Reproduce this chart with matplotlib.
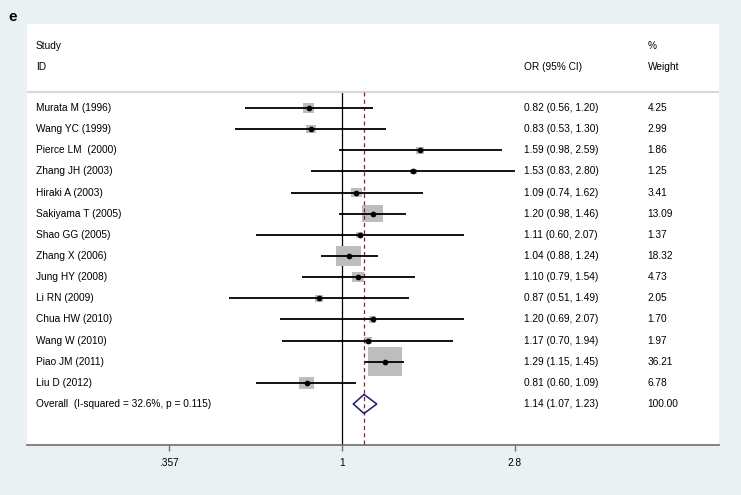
#!/usr/bin/env python3
"""Forest plot: OR (95% CI) by study, random/fixed overall estimate."""

import numpy as np
import matplotlib

matplotlib.use("Agg")
import matplotlib.pyplot as plt
from matplotlib.patches import Polygon
from matplotlib.ticker import FixedLocator, FixedFormatter

plt.rcParams["font.family"] = ["Liberation Sans", "DejaVu Sans"]

STUDIES = [
    "Murata M (1996)",
    "Wang YC (1999)",
    "Pierce LM  (2000)",
    "Zhang JH (2003)",
    "Hiraki A (2003)",
    "Sakiyama T (2005)",
    "Shao GG (2005)",
    "Zhang X (2006)",
    "Jung HY (2008)",
    "Li RN (2009)",
    "Chua HW (2010)",
    "Wang W (2010)",
    "Piao JM (2011)",
    "Liu D (2012)",
]
OR_EST = [0.82, 0.83, 1.59, 1.53, 1.09, 1.20, 1.11, 1.04, 1.10, 0.87, 1.20, 1.17, 1.29, 0.81]
OR_LO = [0.56, 0.53, 0.98, 0.83, 0.74, 0.98, 0.60, 0.88, 0.79, 0.51, 0.69, 0.70, 1.15, 0.60]
OR_HI = [1.20, 1.30, 2.59, 2.80, 1.62, 1.46, 2.07, 1.24, 1.54, 1.49, 2.07, 1.94, 1.45, 1.09]
WEIGHTS = [4.25, 2.99, 1.86, 1.25, 3.41, 13.09, 1.37, 18.32, 4.73, 2.05, 1.70, 1.97, 36.21, 6.78]

OVERALL_LABEL = "Overall  (I-squared = 32.6%, p = 0.115)"
OVERALL = (1.14, 1.07, 1.23)
OVERALL_WEIGHT = 100.00

TICKS = [0.357, 1, 2.8]
TICK_LABELS = [".357", "1", "2.8"]

BG = "#e9f1f3"
FS = 7.3

fig = plt.figure(figsize=(7.41, 4.95), dpi=100, facecolor=BG)
ax = fig.add_axes([27 / 741, 50 / 495, 692 / 741, 421 / 495])
ax.set_facecolor("white")

ax.set_xscale("log")
ax.set_xlim(np.exp(-1.875), np.exp(2.244))
ax.set_ylim(15.94, -3.97)

rows = np.arange(len(STUDIES))
overall_row = len(STUDIES)
sep_row = -0.76

# reference lines
ax.plot([1, 1], [sep_row, 15.94], color="black", lw=0.9, zorder=1)
ax.plot([OVERALL[0], OVERALL[0]], [sep_row, 15.94], color="#8b2232", lw=0.9,
        dashes=(3.2, 2.6), zorder=3)
ax.axhline(sep_row, color="#d8d8d8", lw=1.6, zorder=1)

# weight boxes (area ~ weight), slightly wider than tall
box_marker = [(-1.18, -1), (1.18, -1), (1.18, 1), (-1.18, 1), (-1.18, -1)]
sizes = [16.6 * w for w in WEIGHTS]
ax.scatter(OR_EST, rows, s=sizes, marker=box_marker, color="#bdbdbd",
           linewidths=0, zorder=2)

ax.hlines(rows, OR_LO, OR_HI, color="black", lw=1.3, zorder=4)
ax.plot(OR_EST, rows, "o", color="black", ms=3.1, zorder=5)

# overall diamond
est, lo, hi = OVERALL
h = 0.45
ax.add_patch(Polygon([(lo, overall_row), (est, overall_row - h), (hi, overall_row),
                      (est, overall_row + h)], closed=True, fill=False,
                     edgecolor="#1c1c6e", lw=1.1, zorder=6))

# text columns
tr = ax.get_yaxis_transform()
x_study, x_ci, x_wt = 0.013, 0.718, 0.897
ax.text(x_study, -2.93, "Study", transform=tr, fontsize=FS, va="center")
ax.text(x_study, -1.94, "ID", transform=tr, fontsize=FS, va="center")
ax.text(x_ci, -1.94, "OR (95% CI)", transform=tr, fontsize=FS, va="center")
ax.text(x_wt, -2.93, "%", transform=tr, fontsize=FS, va="center")
ax.text(x_wt, -1.94, "Weight", transform=tr, fontsize=FS, va="center")

for r, name, e, l, u, w in zip(rows, STUDIES, OR_EST, OR_LO, OR_HI, WEIGHTS):
    ax.text(x_study, r, name, transform=tr, fontsize=FS, va="center")
    ax.text(x_ci, r, f"{e:.2f} ({l:.2f}, {u:.2f})", transform=tr, fontsize=FS, va="center")
    ax.text(x_wt, r, f"{w:.2f}", transform=tr, fontsize=FS, va="center")

ax.text(x_study, overall_row, OVERALL_LABEL, transform=tr, fontsize=FS, va="center")
ax.text(x_ci, overall_row, f"{est:.2f} ({lo:.2f}, {hi:.2f})", transform=tr,
        fontsize=FS, va="center")
ax.text(x_wt, overall_row, f"{OVERALL_WEIGHT:.2f}", transform=tr, fontsize=FS, va="center")

# axis styling
for side in ("top", "left", "right"):
    ax.spines[side].set_visible(False)
ax.spines["bottom"].set_color("#6e6e6e")
ax.spines["bottom"].set_linewidth(1.2)
ax.xaxis.set_major_locator(FixedLocator(TICKS))
ax.xaxis.set_major_formatter(FixedFormatter(TICK_LABELS))
ax.xaxis.set_minor_locator(FixedLocator([]))
ax.tick_params(axis="x", direction="out", length=4.5, width=1.0, color="#6e6e6e",
               labelsize=FS, pad=5)
ax.set_yticks([])

fig.text(8 / 741, 1 - 17 / 495, "e", fontsize=11, fontweight="bold", va="center")

fig.savefig("out.png", dpi=100, facecolor=BG)
